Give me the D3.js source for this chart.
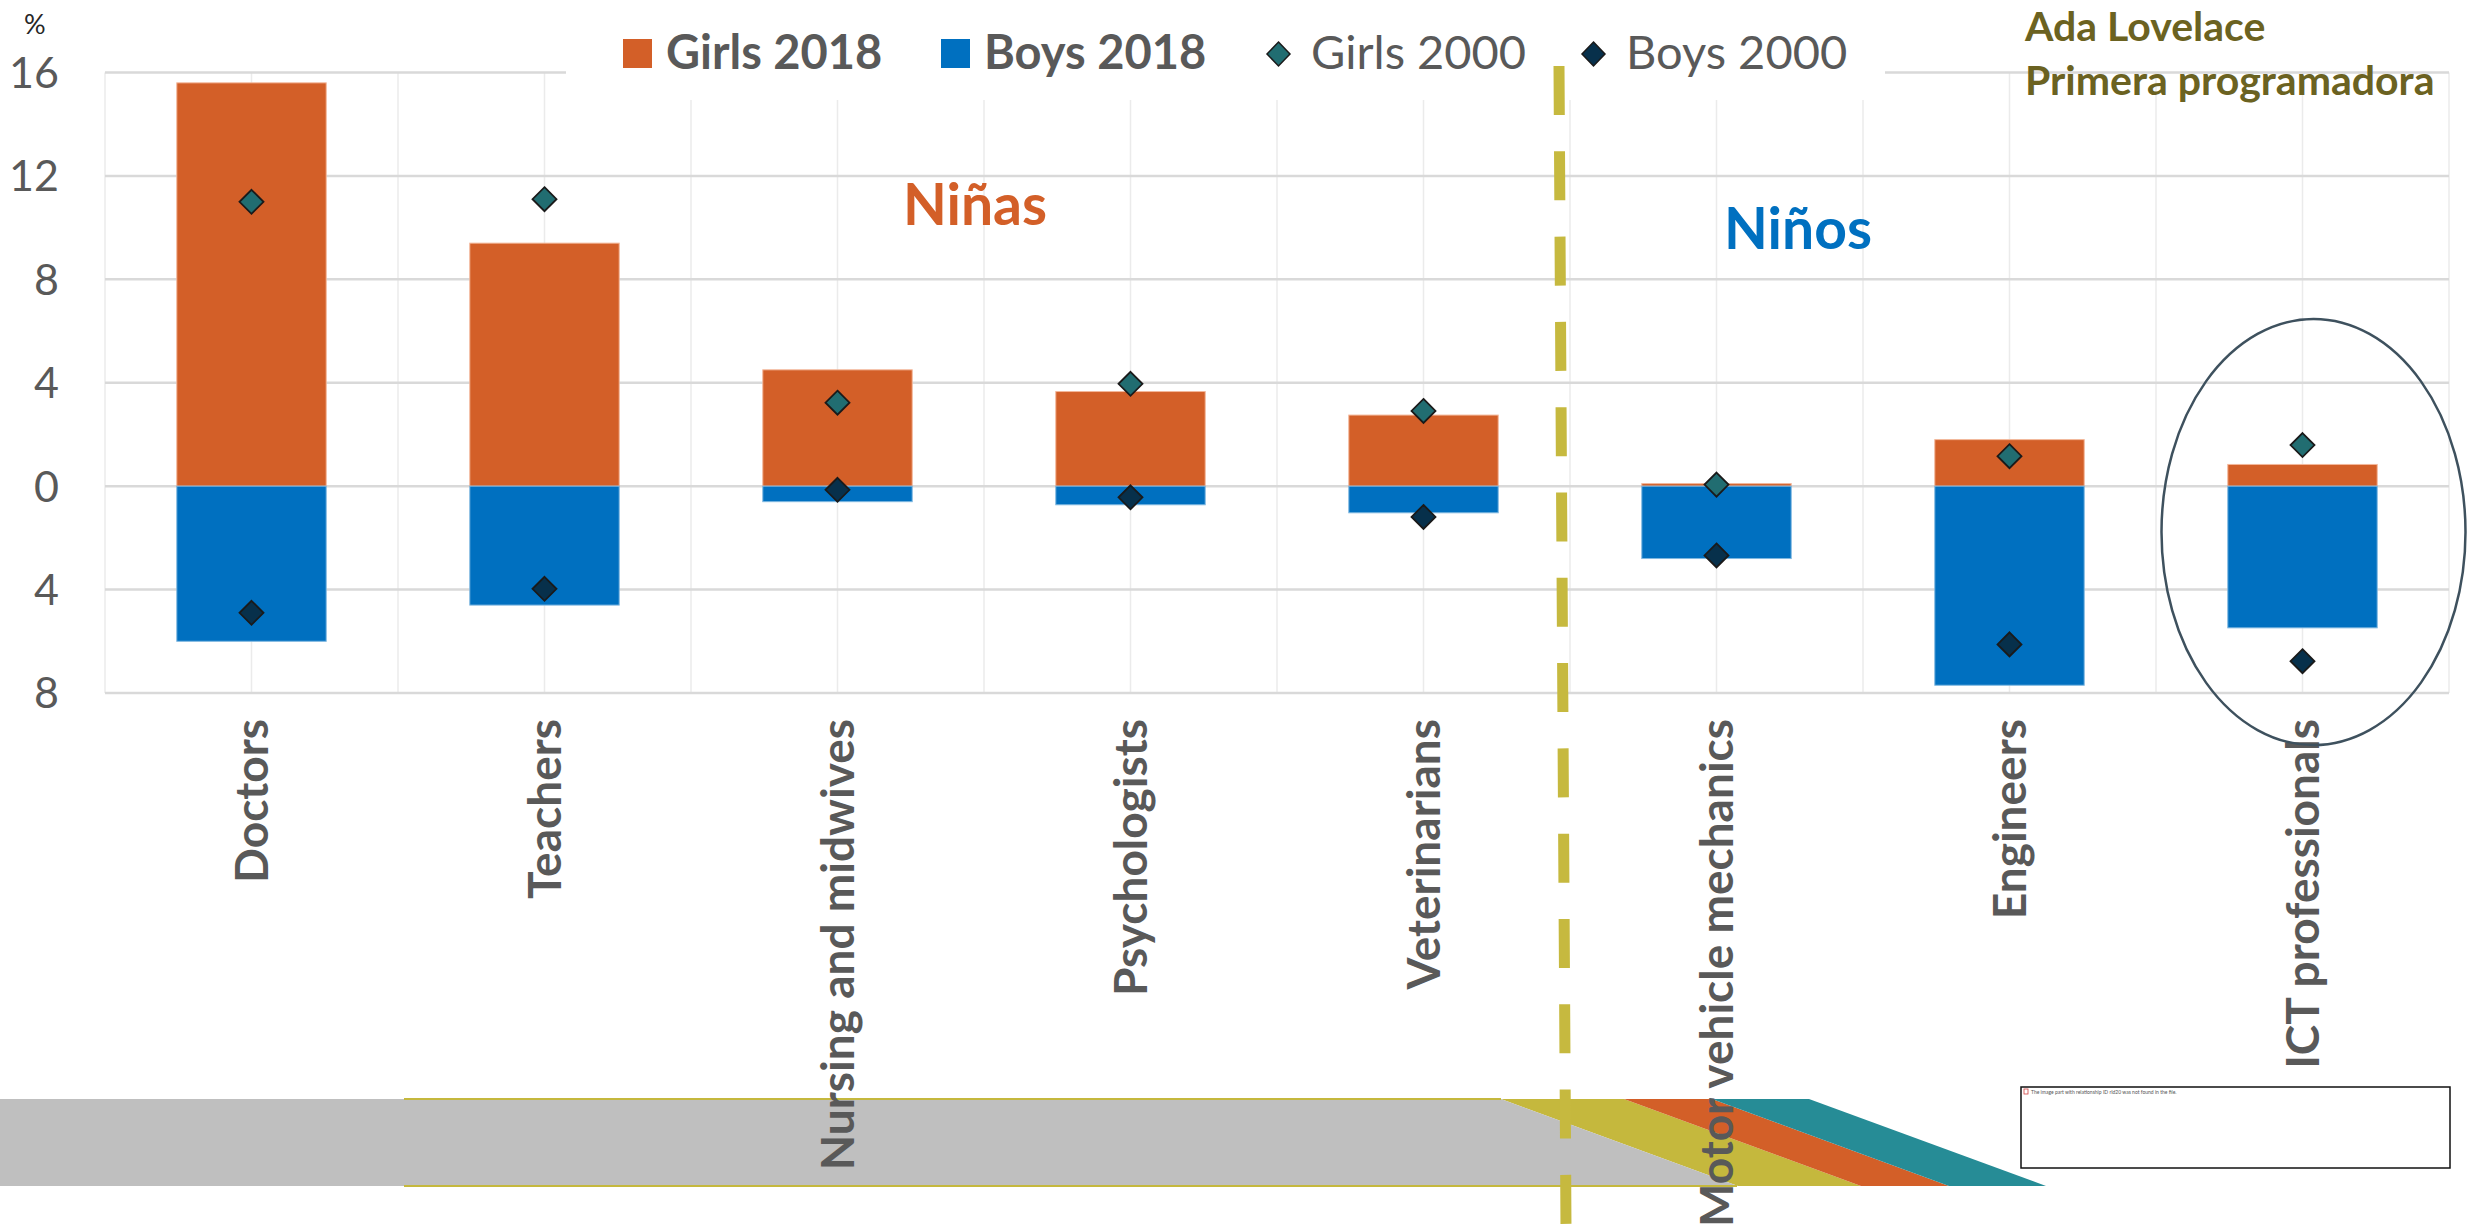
<!DOCTYPE html>
<html>
<head>
<meta charset="utf-8">
<script src="https://cdn.jsdelivr.net/npm/d3@7"></script>
<style>
  body { margin: 0; background: #fff; }
  svg { display: block; }
</style>
</head>
<body>
<div id="chart"></div>
<script>
const categories = ['Doctors', 'Teachers', 'Nursing and midwives', 'Psychologists',
  'Veterinarians', 'Motor vehicle mechanics', 'Engineers', 'ICT professionals'];
const girls2018 = [15.6, 9.4, 4.5, 3.66, 2.75, 0.1, 1.8, 0.84];
const boys2018 = [6.0, 4.6, 0.6, 0.72, 1.03, 2.8, 7.7, 5.48];
const girls2000 = [11.0, 11.1, 3.23, 3.96, 2.91, 0.06, 1.16, 1.59];
const boys2000 = [4.9, 3.97, 0.14, 0.43, 1.19, 2.68, 6.12, 6.77];
const yTicks = [-8, -4, 0, 4, 8, 12, 16];

const width = 2475;
const height = 1228;
const gray = '#595959';
const orange = '#D35F28';
const blue = '#0070C0';
const teal = '#216D71';
const navy = '#07304B';
const font = 'Lato, "Open Sans", sans-serif';

const svg = d3.select('#chart').append('svg')
  .attr('width', width)
  .attr('height', height);

const x = d3.scaleBand().domain(categories).range([105, 2449]);
const y = d3.scaleLinear().domain([-8, 16]).range([693, 72.5]);
const barW = x.bandwidth() * 0.51;

// gridlines
const grid = svg.append('g');
const vx = [];
categories.forEach((c) => {
  vx.push(x(c), x(c) + x.bandwidth() / 2);
});
vx.push(x.range()[1]);
grid.selectAll('line.v').data(vx).join('line')
  .attr('x1', (d) => d).attr('x2', (d) => d)
  .attr('y1', y(16)).attr('y2', y(-8))
  .attr('stroke', '#ebebeb').attr('stroke-width', 1.5);
grid.selectAll('line.h').data(yTicks).join('line')
  .attr('x1', x.range()[0]).attr('x2', x.range()[1])
  .attr('y1', (d) => y(d)).attr('y2', (d) => y(d))
  .attr('stroke', '#d9d9d9').attr('stroke-width', 2.5);

// y labels
svg.append('g').selectAll('text').data(yTicks).join('text')
  .attr('x', 59).attr('y', (d) => y(d)).attr('dy', '0.36em')
  .attr('text-anchor', 'end')
  .style('font-family', font).style('font-size', '43px').attr('fill', gray)
  .text((d) => Math.abs(d));
svg.append('text').attr('x', 24).attr('y', 34)
  .style('font-family', font).style('font-size', '27px').attr('fill', '#262626')
  .text('%');

// bars
const rows = categories.map((c, i) => ({
  c, g18: girls2018[i], b18: boys2018[i], g00: girls2000[i], b00: boys2000[i]
}));
const bars = svg.append('g');
bars.selectAll('rect.g').data(rows).join('rect')
  .attr('x', (d) => x(d.c) + (x.bandwidth() - barW) / 2)
  .attr('width', barW)
  .attr('y', (d) => y(d.g18))
  .attr('height', (d) => y(0) - y(d.g18))
  .attr('fill', orange).attr('stroke', '#f3b79a').attr('stroke-width', 1);
bars.selectAll('rect.b').data(rows).join('rect')
  .attr('x', (d) => x(d.c) + (x.bandwidth() - barW) / 2)
  .attr('width', barW)
  .attr('y', y(0))
  .attr('height', (d) => y(-d.b18) - y(0))
  .attr('fill', blue).attr('stroke', '#7fb8e0').attr('stroke-width', 1);

const diamond = 'M0,-12L12,0L0,12L-12,0Z';
const marks = svg.append('g');
marks.selectAll('path.g').data(rows).join('path')
  .attr('d', diamond)
  .attr('transform', (d) => `translate(${x(d.c) + x.bandwidth() / 2},${y(d.g00)})`)
  .attr('fill', teal).attr('stroke', '#1a1a1a').attr('stroke-width', 1.8);
marks.selectAll('path.b').data(rows).join('path')
  .attr('d', diamond)
  .attr('transform', (d) => `translate(${x(d.c) + x.bandwidth() / 2},${y(-d.b00)})`)
  .attr('fill', navy).attr('stroke', '#1a1a1a').attr('stroke-width', 1.8);

// legend
svg.append('rect').attr('x', 566).attr('y', 0).attr('width', 1319).attr('height', 100)
  .attr('fill', '#fff');
const legend = [
  { label: 'Girls 2018', type: 'rect', color: orange, x: 623, bold: true },
  { label: 'Boys 2018', type: 'rect', color: blue, x: 941, bold: true },
  { label: 'Girls 2000', type: 'diamond', color: teal, x: 1267, bold: false },
  { label: 'Boys 2000', type: 'diamond', color: navy, x: 1582, bold: false },
];
const lg = svg.append('g').selectAll('g').data(legend).join('g')
  .attr('transform', (d) => `translate(${d.x},0)`);
lg.filter((d) => d.type === 'rect').append('rect')
  .attr('x', 0).attr('y', 39).attr('width', 29).attr('height', 29)
  .attr('fill', (d) => d.color);
lg.filter((d) => d.type === 'diamond').append('path')
  .attr('d', 'M0,-12L11.5,0L0,12L-11.5,0Z')
  .attr('transform', 'translate(11.5,54)')
  .attr('fill', (d) => d.color).attr('stroke', '#1a1a1a').attr('stroke-width', 1.5);
lg.append('text')
  .attr('x', (d) => d.type === 'rect' ? 43 : 44).attr('y', 69)
  .style('font-family', font).style('font-size', '47px')
  .style('font-weight', (d) => d.bold ? 700 : 400)
  .attr('fill', gray)
  .text((d) => d.label);

// annotations
svg.append('text').attr('x', 975).attr('y', 225).attr('text-anchor', 'middle')
  .style('font-family', font).style('font-size', '57px').style('font-weight', 700)
  .attr('fill', orange).text('Niñas');
svg.append('text').attr('x', 1798).attr('y', 249).attr('text-anchor', 'middle')
  .style('font-family', font).style('font-size', '57px').style('font-weight', 700)
  .attr('fill', blue).text('Niños');
const ada = svg.append('text')
  .style('font-family', font).style('font-size', '41px').style('font-weight', 700)
  .attr('fill', '#6B6221');
ada.append('tspan').attr('x', 2025).attr('y', 41).text('Ada Lovelace');
ada.append('tspan').attr('x', 2025).attr('y', 95).text('Primera programadora');

// bottom decoration band
const deco = svg.append('g');
const stripes = [
  { color: '#C5B83D', x0: 1501, x1: 1624 },
  { color: orange, x0: 1624, x1: 1712 },
  { color: '#268C96', x0: 1712, x1: 1809 },
];
deco.selectAll('path').data(stripes).join('path')
  .attr('d', (d) => `M${d.x0},1099L${d.x1},1099L${d.x1 + 237},1186L${d.x0 + 237},1186Z`)
  .attr('fill', (d) => d.color);
deco.append('path')
  .attr('d', 'M0,1099L1501,1099L1738,1186L0,1186Z').attr('fill', '#BFBFBF');
deco.append('line').attr('x1', 404).attr('x2', 1501).attr('y1', 1099).attr('y2', 1099)
  .attr('stroke', '#C5B83D').attr('stroke-width', 2);
deco.append('line').attr('x1', 404).attr('x2', 1737).attr('y1', 1186).attr('y2', 1186)
  .attr('stroke', '#C5B83D').attr('stroke-width', 2);

// x labels
svg.append('g').selectAll('text').data(categories).join('text')
  .attr('transform', (d) => `translate(${x(d) + x.bandwidth() / 2},719) rotate(-90)`)
  .attr('dy', '0.36em')
  .attr('text-anchor', 'end')
  .style('font-family', font).style('font-size', '46px').style('font-weight', 700)
  .attr('fill', gray)
  .text((d) => d);

// ellipse around ICT
const ict = categories[7];
svg.append('ellipse')
  .attr('cx', x(ict) + x.bandwidth() / 2 + 11).attr('cy', 532)
  .attr('rx', 152).attr('ry', 213)
  .attr('fill', 'none').attr('stroke', '#3E515E').attr('stroke-width', 2.5);

// divider
svg.append('line')
  .attr('x1', 1559).attr('y1', 66).attr('x2', 1566).attr('y2', 1228)
  .attr('stroke', '#C6B93F').attr('stroke-width', 11)
  .attr('stroke-dasharray', '49 36.3');

// broken picture placeholder
svg.append('rect').attr('x', 2021).attr('y', 1087).attr('width', 429).attr('height', 81)
  .attr('fill', '#fff').attr('stroke', '#111').attr('stroke-width', 1.5);
svg.append('rect').attr('x', 2024).attr('y', 1089).attr('width', 4).attr('height', 5)
  .attr('fill', '#fff').attr('stroke', '#d04040').attr('stroke-width', 0.8);
svg.append('text').attr('x', 2031).attr('y', 1094)
  .style('font-family', font).style('font-size', '5px').attr('fill', '#555')
  .text('The image part with relationship ID rId20 was not found in the file.');
</script>
</body>
</html>
